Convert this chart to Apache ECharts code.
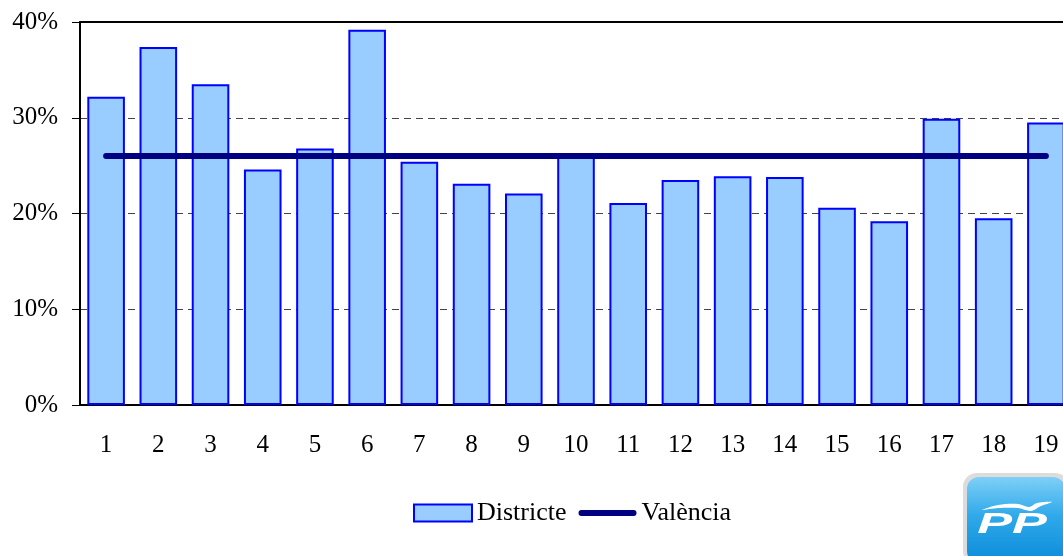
<!DOCTYPE html>
<html>
<head>
<meta charset="utf-8">
<script src="https://cdn.jsdelivr.net/npm/echarts@6/dist/echarts.min.js"></script>
<style>html,body{margin:0;padding:0;background:#fff;overflow:hidden;width:1063px;height:556px}#c{width:1072px;height:556px}</style>
</head>
<body>
<div id="c"></div>
<script>
const categories = ['1','2','3','4','5','6','7','8','9','10','11','12','13','14','15','16','17','18','19'];
const districte = [32.2, 37.4, 33.5, 24.6, 26.8, 39.2, 25.4, 23.1, 22.1, 26.1, 21.1, 23.5, 23.9, 23.8, 20.6, 19.2, 29.9, 19.5, 29.5];
const valencia = [26.0, 26.0, 26.0, 26.0, 26.0, 26.0, 26.0, 26.0, 26.0, 26.0, 26.0, 26.0, 26.0, 26.0, 26.0, 26.0, 26.0, 26.0, 26.0];
const seriesNames = ['Districte', 'València'];

const font = 'Liberation Serif';
const chart = echarts.init(document.getElementById('c'), null, {renderer: 'canvas'});
chart.setOption({
  animation: false,
  grid: {left: 80, top: 22, right: 0, bottom: 151, containLabel: false},
  legend: {
    top: 500, left: 413, padding: 0,
    itemWidth: 58, itemHeight: 17, itemGap: 12,
    textStyle: {fontFamily: font, fontSize: 26, color: '#000'},
    data: [
      {name: seriesNames[0], icon: 'rect'},
      {name: seriesNames[1], icon: 'path://M3,0 L57,0 A3,3 0 0 1 57,6 L3,6 A3,3 0 0 1 3,0 Z', itemStyle: {color: '#000080'}}
    ]
  },
  xAxis: [{
    type: 'category', data: categories,
    axisLine: {lineStyle: {color: '#000', width: 2}},
    axisTick: {show: false},
    axisLabel: {fontFamily: font, fontSize: 25, color: '#000', margin: 28}
  }, {
    type: 'category', data: categories, position: 'top',
    axisLine: {lineStyle: {color: '#000', width: 2}},
    axisTick: {show: false}, axisLabel: {show: false}
  }],
  yAxis: {
    type: 'value', min: 0, max: 40, interval: 10,
    axisLine: {show: true, lineStyle: {color: '#000', width: 2}},
    axisTick: {show: true, length: 8, lineStyle: {color: '#000', width: 1}},
    axisLabel: {fontFamily: font, fontSize: 25, color: '#000', margin: 22, formatter: '{value}%'},
    splitLine: {show: true, lineStyle: {color: '#444', width: 1, type: [7, 5]}}
  },
  series: [{
    name: seriesNames[0], type: 'bar', data: districte,
    barCategoryGap: '28%',
    itemStyle: {color: '#99CCFF', borderColor: '#0000FF', borderWidth: 2}
  }, {
    name: seriesNames[1], type: 'line', data: valencia,
    symbol: 'none', z: 5,
    lineStyle: {color: '#000080', width: 6, cap: 'round'},
    itemStyle: {color: '#000080'}
  }],
  graphic: [{
    type: 'group', x: 963, y: 473,
    children: [
      {type: 'rect', shape: {x: 0, y: 0, width: 106, height: 92, r: 14}, style: {fill: '#dcdcdc'}},
      {type: 'rect', shape: {x: 4, y: 4, width: 98, height: 86, r: 12},
        style: {fill: new echarts.graphic.LinearGradient(0, 0, 0, 1, [{offset: 0, color: '#7fd0f7'}, {offset: 0.45, color: '#2fa9ea'}, {offset: 1, color: '#0b8bd8'}])}},
      {type: 'polygon', shape: {points: [[19,37],[35,32],[55,31],[66,34],[74,30],[89,29],[78,33],[68,38],[55,35],[35,35]], smooth: 0.3}, style: {fill: '#ffffff'}},
      {type: 'text', x: 49, y: 52, scaleX: 1.8, style: {x: 0, y: 0, text: 'PP', fill: '#ffffff', font: 'italic bold 29px "Liberation Sans"', align: 'center', verticalAlign: 'middle'}}
    ]
  }]
});
</script>
</body>
</html>
